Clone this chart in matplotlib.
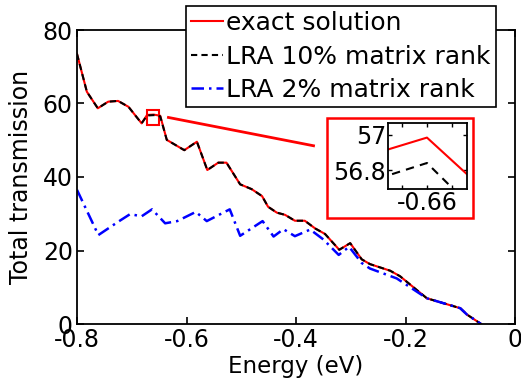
import matplotlib
matplotlib.use('Agg')
import matplotlib.pyplot as plt
from matplotlib.patches import Rectangle

plt.rcParams['font.family'] = ['DejaVu Sans']
plt.rcParams['axes.unicode_minus'] = False

# energies (eV) and total transmission
energy = [-0.800, -0.782, -0.762, -0.743, -0.725, -0.706, -0.682, -0.672, -0.660, -0.648,
          -0.636, -0.604, -0.581, -0.562, -0.542, -0.527, -0.502, -0.481, -0.462, -0.451,
          -0.435, -0.420, -0.402, -0.384, -0.365, -0.347, -0.321, -0.301, -0.280, -0.265,
          -0.228, -0.210, -0.161, -0.100, -0.088, -0.062]
exact = [73.5, 63.2, 58.7, 60.5, 60.7, 59.1, 54.6, 56.88, 56.985, 56.67,
         50.1, 47.3, 49.6, 41.9, 43.9, 43.9, 38.0, 36.7, 34.8, 31.9,
         30.3, 29.7, 28.1, 28.1, 26.0, 24.5, 20.2, 22.0, 17.6, 16.3,
         14.5, 13.0, 7.0, 4.3, 2.6, 0.0]
lra10 = [73.5, 63.2, 58.7, 60.5, 60.7, 59.1, 54.6, 56.73, 56.84, 56.50,
         50.1, 47.3, 49.6, 41.9, 43.9, 43.9, 38.0, 36.7, 34.8, 31.9,
         30.3, 29.7, 28.1, 28.1, 26.0, 24.5, 20.2, 22.0, 17.6, 16.3,
         14.5, 13.0, 7.0, 4.3, 2.6, 0.0]

energy2 = [-0.800, -0.761, -0.725, -0.703, -0.682, -0.663, -0.639, -0.617, -0.583, -0.563,
           -0.521, -0.502, -0.461, -0.441, -0.423, -0.402, -0.374, -0.350, -0.322, -0.303,
           -0.280, -0.265, -0.216, -0.161, -0.100, -0.088, -0.062]
lra2 = [36.5, 24.2, 27.8, 29.9, 29.3, 31.2, 27.4, 28.0, 30.5, 28.0,
        31.2, 24.0, 28.0, 23.8, 25.8, 23.9, 25.7, 23.0, 18.8, 21.0,
        16.6, 15.1, 12.4, 7.0, 4.3, 2.6, 0.0]

labels = ['exact solution', 'LRA 10% matrix rank', 'LRA 2% matrix rank']

# zoom region and pointer line
zoom_x = (-0.672, -0.651)
zoom_y = (54.1, 58.2)
inset_xlim = (-0.6678, -0.6521)
inset_ylim = (56.69, 57.07)
pointer_x = [-0.633, -0.368]
pointer_y = [56.2, 48.5]

fig = plt.figure(figsize=(5.21, 3.86), dpi=100)
ax = fig.add_axes([77/521, 62/386, 438/521, 294/386])

l1, = ax.plot(energy, exact, color='red', lw=1.5)
l2, = ax.plot(energy, lra10, color='black', ls='--', lw=1.5, dashes=(3, 2))
l3, = ax.plot(energy2, lra2, color='blue', ls='-.', lw=1.8, dashes=(5, 2, 1, 2))

ax.set_xlim(-0.8, 0)
ax.set_ylim(0, 80)
ax.set_xticks([-0.8, -0.6, -0.4, -0.2, 0])
ax.set_xticklabels(['-0.8', '-0.6', '-0.4', '-0.2', '0'])
ax.set_yticks([0, 20, 40, 60, 80])
ax.tick_params(direction='in', top=True, right=True, labelsize=17, length=5, width=1.2, pad=3)
for s in ax.spines.values():
    s.set_linewidth(1.3)
ax.set_xlabel('Energy (eV)', fontsize=16.5, labelpad=2)
ax.set_ylabel('Total transmission', fontsize=17, labelpad=7)

ax.add_patch(Rectangle((zoom_x[0], zoom_y[0]), zoom_x[1] - zoom_x[0], zoom_y[1] - zoom_y[0],
                       fill=False, edgecolor='red', lw=1.5))
ax.plot(pointer_x, pointer_y, color='red', lw=2)

# inset
fig.add_artist(Rectangle((326.7/521, 1 - 218.3/386), 146/521, 100/386,
                         transform=fig.transFigure, fill=False, edgecolor='red', lw=1.8))
ins = fig.add_axes([387.7/521, 1 - 189.3/386, 79/521, 66.6/386])
ins.plot(energy, exact, color='red', lw=1.5)
ins.plot(energy, lra10, color='black', ls='--', lw=1.5, dashes=(4, 3))
ins.set_xlim(inset_xlim)
ins.set_ylim(inset_ylim)
ins.set_xticks([-0.665, -0.66, -0.655])
ins.set_xticklabels(['', '-0.66', ''])
ins.set_yticks([56.8, 57])
ins.set_yticklabels(['56.8', '57'])
ins.tick_params(direction='in', top=True, right=True, labelsize=17, length=3, width=1, pad=1)
for s in ins.spines.values():
    s.set_linewidth(1.3)

leg = fig.legend([l1, l2, l3], labels, loc='upper left', bbox_to_anchor=(186/521, 1 - 6/386),
                 fontsize=18, handlelength=1.3, handletextpad=0.1, labelspacing=0.38,
                 borderpad=0.2, borderaxespad=0, fancybox=False, framealpha=1,
                 edgecolor='black')
leg.get_frame().set_linewidth(1.2)

fig.savefig('out.png', dpi=100)
